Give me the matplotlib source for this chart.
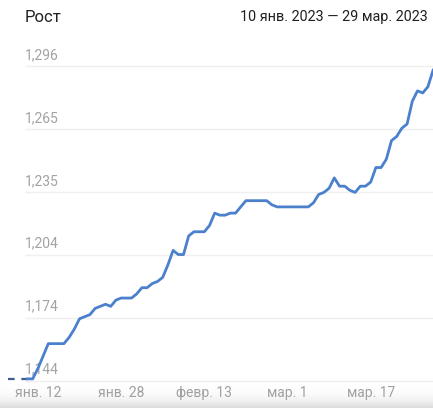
import numpy as np
import matplotlib
matplotlib.use('Agg')
from matplotlib import pyplot as plt
from matplotlib import transforms

plt.rcParams['font.family'] = ['Roboto', 'DejaVu Sans']

# Данные: ежедневные значения 10 янв. - 29 мар. 2023
values = [1145, 1145, 1150, 1156, 1162, 1162, 1162, 1162, 1165, 1169,
          1174, 1175, 1176, 1179, 1180, 1181, 1180, 1183, 1184, 1184,
          1184, 1186, 1189, 1189, 1191, 1192, 1194, 1200, 1207, 1205,
          1205, 1214, 1216, 1216, 1216, 1219, 1225, 1224, 1224, 1225,
          1225, 1228, 1231, 1231, 1231, 1231, 1231, 1229, 1228, 1228,
          1228, 1228, 1228, 1228, 1228, 1230, 1234, 1235, 1237, 1242,
          1238, 1238, 1236, 1235, 1238, 1238, 1240, 1247, 1247, 1251,
          1260, 1262, 1266, 1268, 1279, 1284, 1283, 1286, 1294]
days = np.arange(len(values))

tick_days = [2, 18, 34, 50, 66]
tick_labels = ['янв. 12', 'янв. 28', 'февр. 13', 'мар. 1', 'мар. 17']

y_ticks = [1144, 1174.4, 1204.8, 1235.2, 1265.6, 1296]
y_labels = ['1,144', '1,174', '1,204', '1,235', '1,265', '1,296']

title = 'Рост'
date_range = '10 янв. 2023 — 29 мар. 2023'

W, H = 433, 408
fig = plt.figure(figsize=(W / 100, H / 100), dpi=100)

# тень внизу (под подписями оси X)
sh = fig.add_axes([0, 0, 1, 26 / H], zorder=0)
grad = np.linspace(0, 1, 50) ** 2.2
sh.imshow(grad.reshape(-1, 1), aspect='auto', cmap='Greys', vmin=0, vmax=4.2,
          extent=[0, 1, 0, 1])
sh.axis('off')

ax = fig.add_axes([0, (H - 383) / H, 1, (383 - 60) / H], zorder=1)
ax.patch.set_alpha(0)

px_day = 5.2
x0 = 27.5
ax.set_xlim((0 - x0) / px_day, (W - x0) / px_day)
ax.set_ylim(1143.0, 1298.9)
ax.axis('off')

# сетка
gx0 = (25 - x0) / px_day
ax.hlines(y_ticks, gx0, 100, color='#efefef', lw=1, zorder=1)

# подписи оси Y
for v, lab in zip(y_ticks, y_labels):
    ax.annotate(lab, xy=(gx0, v), xytext=(0, 3), textcoords='offset points',
                ha='left', va='bottom', fontsize=10, color='#a3a3a3', zorder=2)

# линия
ax.plot([-3.7, 0], [values[0], values[0]], color='#3d5f90', lw=1.6,
        ls=(0, (3, 3)), zorder=3)
ax.plot(days, values, color='#4a80cc', lw=2.0, solid_joinstyle='round',
        clip_on=True, zorder=4)

# подписи оси X
tr = transforms.blended_transform_factory(ax.transData, fig.transFigure)
for d, lab in zip(tick_days, tick_labels):
    ax.text(d, (H - 393) / H, lab, transform=tr, ha='center', va='center',
            fontsize=10, color='#a0a0a0', clip_on=False)

# заголовок
fig.text(25 / W, 1 - 17 / H, title, ha='left', va='center', fontsize=12,
         color='#202020')
fig.text(240 / W, 1 - 17 / H, date_range, ha='left', va='center',
         fontsize=10.4, color='#202020')

fig.savefig('out.png', dpi=100)
